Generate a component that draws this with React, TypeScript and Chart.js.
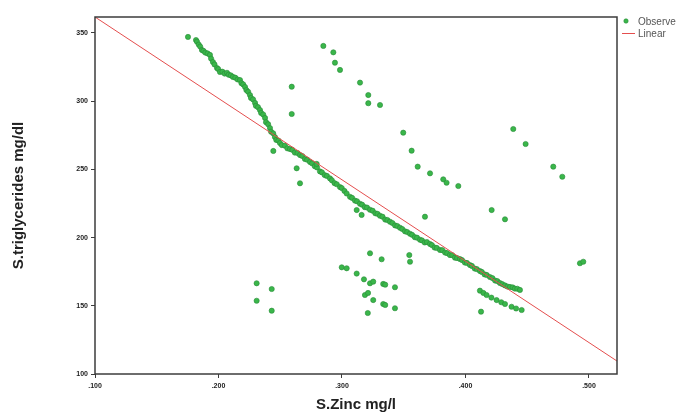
import React, { useEffect, useRef } from 'react';
import { Chart, registerables } from 'chart.js';

Chart.register(...registerables);

// Dense main band of observed values (S.Zinc, S.triglycerides)
const bandZinc = [
  0.1753, 0.1818, 0.1826, 0.1840, 0.1852, 0.1866, 0.1878, 0.1893, 0.1912, 0.1931,
  0.1940, 0.1955, 0.1968, 0.1988, 0.1998, 0.2012, 0.2032, 0.2050, 0.2069, 0.2082,
  0.2100, 0.2117, 0.2136, 0.2155, 0.2174, 0.2186, 0.2200, 0.2215, 0.2226, 0.2240,
  0.2255, 0.2263, 0.2280, 0.2296, 0.2303, 0.2320, 0.2336, 0.2345, 0.2362, 0.2377,
  0.2385, 0.2402, 0.2417, 0.2426, 0.2443, 0.2457, 0.2468, 0.2485, 0.2498, 0.2513,
  0.2538, 0.2558, 0.2579, 0.2598, 0.2618, 0.2640, 0.2660, 0.2678, 0.2700, 0.2718,
  0.2741, 0.2758, 0.2780, 0.2798, 0.2822, 0.2838, 0.2860, 0.2878, 0.2903, 0.2918,
  0.2940, 0.2958, 0.2984, 0.2998, 0.3020, 0.3038, 0.3065, 0.3082, 0.3105, 0.3122,
  0.3146, 0.3163, 0.3185, 0.3203, 0.3227, 0.3248, 0.3270, 0.3288, 0.3308, 0.3328,
  0.3350, 0.3368, 0.3389, 0.3408, 0.3430, 0.3448, 0.3470, 0.3488, 0.3510, 0.3528,
  0.3551, 0.3568, 0.3590, 0.3608, 0.3632, 0.3648, 0.3670, 0.3688, 0.3713, 0.3728,
  0.3750, 0.3768, 0.3794, 0.3812, 0.3835, 0.3852, 0.3874, 0.3892, 0.3915, 0.3932,
  0.3955, 0.3972, 0.3995, 0.4012, 0.4036, 0.4052, 0.4075, 0.4092, 0.4117, 0.4132,
  0.4155, 0.4172, 0.4198, 0.4218, 0.4240, 0.4258, 0.4279, 0.4298, 0.4320, 0.4340,
  0.4360, 0.4382, 0.4400, 0.4420, 0.4441,
];
const bandTg = [
  347.1, 344.8, 343.6, 341.5, 340.0, 337.5, 336.9, 335.6, 335.0, 333.9,
  331.2, 328.7, 326.9, 324.3, 323.5, 321.4, 321.6, 320.2, 320.8, 319.4,
  318.9, 317.8, 317.2, 315.9, 315.5, 313.2, 312.3, 310.4, 308.1, 306.9,
  304.5, 302.4, 301.3, 298.7, 296.6, 295.6, 293.5, 291.4, 290.2, 287.7,
  284.6, 283.1, 280.3, 277.6, 276.4, 273.7, 271.6, 271.1, 269.3, 267.8,
  267.4, 265.4, 264.9, 264.3, 262.3, 262.0, 260.5, 259.8, 257.6, 257.1,
  255.4, 254.4, 252.3, 251.4, 248.5, 247.8, 245.8, 245.2, 243.4, 242.0,
  239.9, 239.1, 237.0, 236.3, 234.2, 232.3, 229.9, 229.1, 227.1, 226.6,
  224.8, 224.1, 222.3, 222.0, 220.4, 219.7, 217.8, 217.4, 216.0, 215.3,
  213.2, 212.9, 211.6, 210.7, 208.9, 208.5, 207.2, 206.3, 204.6, 204.1,
  202.8, 202.0, 200.3, 199.9, 198.4, 197.9, 196.4, 196.7, 195.3, 194.5,
  192.7, 192.4, 190.9, 190.8, 189.0, 188.6, 187.2, 187.1, 185.3, 185.0,
  184.3, 183.5, 181.7, 181.4, 179.9, 179.2, 177.3, 176.9, 175.5, 174.8,
  173.0, 172.6, 171.1, 170.3, 168.5, 168.1, 166.7, 165.9, 164.9, 164.1,
  163.8, 163.5, 162.6, 162.5, 161.6,
];

// Scattered observed values away from the band
const otherZinc = [
  0.2593, 0.2593, 0.2849, 0.2930, 0.2943, 0.2984, 0.3146, 0.3213, 0.3213, 0.3308,
  0.2444, 0.2633, 0.2660, 0.2795, 0.2309, 0.2431, 0.2309, 0.2431, 0.3119, 0.3159,
  0.2998, 0.3038, 0.3119, 0.3178, 0.3227, 0.3186, 0.3211, 0.3209, 0.3227, 0.3496,
  0.3564, 0.3613, 0.3713, 0.3820, 0.3847, 0.3942, 0.4387, 0.4487, 0.4711, 0.4784,
  0.4212, 0.4320, 0.3672, 0.3321, 0.3545, 0.3551, 0.3253, 0.3334, 0.3350, 0.3429,
  0.3253, 0.3334, 0.3350, 0.3429, 0.4927, 0.4954, 0.4117, 0.4145, 0.4171, 0.4210,
  0.4252, 0.4290, 0.4320, 0.4373, 0.4410, 0.4455, 0.4126,
];
const otherTg = [
  310.6, 290.6, 340.5, 335.8, 328.2, 322.9, 313.6, 304.5, 298.5, 297.2,
  263.5, 250.8, 239.8, 254.0, 166.5, 162.3, 153.7, 146.4, 220.2, 216.6,
  178.2, 177.5, 173.6, 169.4, 166.5, 157.9, 159.4, 144.7, 188.5, 276.9,
  263.7, 252.0, 247.1, 242.7, 240.2, 237.8, 279.6, 268.6, 252.0, 244.6,
  220.2, 213.4, 215.3, 184.1, 187.2, 182.3, 167.7, 166.0, 165.5, 163.6,
  154.2, 151.3, 150.6, 148.2, 181.2, 182.3, 161.1, 159.4, 157.9, 156.0,
  154.2, 152.6, 151.3, 149.3, 148.0, 146.9, 145.7,
];

// Linear fit endpoints
const linearZinc = [0.1, 0.5227];
const linearTg = [361.7, 109.5];

const xTicks = [0.1, 0.2, 0.3, 0.4, 0.5];
const yTicks = [100, 150, 200, 250, 300, 350];
const xRange = [0.1, 0.5227];
const yRange = [100, 361.7];
const legendLabels = ['Observed', 'Linear'];
const xTitle = 'S.Zinc mg/l';
const yTitle = 'S.triglycerides mg/dl';

const GREEN = 'rgb(58,182,74)';
const GREEN_BORDER = 'rgb(38,140,55)';
const RED = 'rgb(228,78,78)';
const FRAME = '#3c3c3c';

const framePlugin = {
  id: 'frameLegend',
  afterDraw(chart: any) {
    const { ctx, chartArea: a } = chart;
    ctx.save();
    ctx.strokeStyle = FRAME;
    ctx.lineWidth = 1.5;
    ctx.strokeRect(a.left, a.top, a.right - a.left, a.bottom - a.top);

    // legend
    ctx.fillStyle = GREEN;
    ctx.strokeStyle = GREEN_BORDER;
    ctx.lineWidth = 0.6;
    ctx.beginPath();
    ctx.arc(626, 21, 2.2, 0, Math.PI * 2);
    ctx.fill();
    ctx.stroke();
    ctx.strokeStyle = RED;
    ctx.lineWidth = 1;
    ctx.beginPath();
    ctx.moveTo(622, 33.5);
    ctx.lineTo(635, 33.5);
    ctx.stroke();
    ctx.fillStyle = '#555';
    ctx.font = '10px Arial, "Liberation Sans", sans-serif';
    ctx.textBaseline = 'middle';
    ctx.textAlign = 'left';
    ctx.fillText(legendLabels[0], 638, 22);
    ctx.fillText(legendLabels[1], 638, 34);
    ctx.restore();
  },
};

export default function App() {
  const ref = useRef<HTMLCanvasElement | null>(null);

  useEffect(() => {
    if (!ref.current) return;
    const observed = [
      ...bandZinc.map((x, i) => ({ x, y: bandTg[i] })),
      ...otherZinc.map((x, i) => ({ x, y: otherTg[i] })),
    ];
    const linear = linearZinc.map((x, i) => ({ x, y: linearTg[i] }));
    const tickFont = { family: 'Arial, "Liberation Sans", sans-serif', size: 7, weight: 'bold' as const };
    const titleFont = { family: 'Arial, "Liberation Sans", sans-serif', size: 15, weight: 'bold' as const };

    const chart = new Chart(ref.current, {
      type: 'scatter',
      data: {
        datasets: [
          {
            label: legendLabels[1],
            data: linear,
            showLine: true,
            borderColor: RED,
            borderWidth: 1,
            pointRadius: 0,
            order: 0,
          },
          {
            label: legendLabels[0],
            data: observed,
            backgroundColor: GREEN,
            borderColor: GREEN_BORDER,
            borderWidth: 0.6,
            pointRadius: 2.6,
            order: 1,
          },
        ],
      },
      options: {
        responsive: false,
        animation: false,
        layout: { padding: { top: 17, right: 59, left: 0, bottom: 0 } },
        plugins: { legend: { display: false }, tooltip: { enabled: false } },
        scales: {
          x: {
            type: 'linear',
            min: xRange[0],
            max: xRange[1],
            afterBuildTicks: (s: any) => { s.ticks = xTicks.map((v) => ({ value: v })); },
            afterFit: (s: any) => { s.height = 43; },
            ticks: {
              callback: (v: any) => '.' + String(Math.round(Number(v) * 1000)),
              color: '#222',
              font: tickFont,
              padding: 4,
              maxRotation: 0,
              autoSkip: false,
            },
            grid: { drawOnChartArea: false, drawTicks: true, tickLength: 4, color: FRAME },
            border: { display: false },
            title: { display: true, text: xTitle, color: '#222', font: titleFont, padding: { top: 0, bottom: 3 } },
          },
          y: {
            type: 'linear',
            min: yRange[0],
            max: yRange[1],
            afterBuildTicks: (s: any) => { s.ticks = yTicks.map((v) => ({ value: v })); },
            afterFit: (s: any) => { s.width = 95; },
            ticks: {
              callback: (v: any) => String(v),
              color: '#222',
              font: tickFont,
              padding: 3,
              autoSkip: false,
            },
            grid: { drawOnChartArea: false, drawTicks: true, tickLength: 4, color: FRAME },
            border: { display: false },
            title: { display: true, text: yTitle, color: '#222', font: titleFont, padding: { top: 10, bottom: 0 } },
          },
        },
      },
      plugins: [framePlugin],
    });
    return () => chart.destroy();
  }, []);

  return (
    <div style={{ position: 'fixed', left: 0, top: 0, width: 676, height: 417, background: '#fff' }}>
      <canvas ref={ref} width={676} height={417} style={{ display: 'block' }} />
    </div>
  );
}
